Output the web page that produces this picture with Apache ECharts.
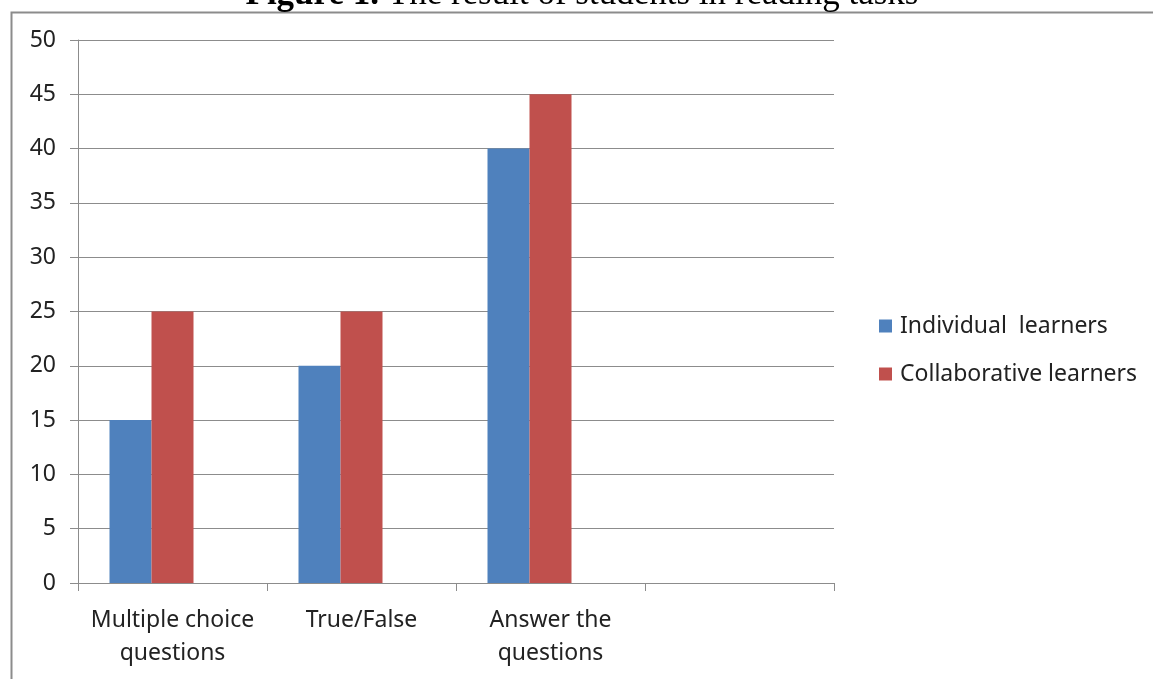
<!DOCTYPE html>
<html>
<head>
<meta charset="utf-8">
<script src="https://cdn.jsdelivr.net/npm/echarts@6/dist/echarts.min.js"></script>
<style>
html,body{margin:0;padding:0;background:#fff;}
#chart{width:1153px;height:679px;}
</style>
</head>
<body>
<div id="chart"></div>
<script>
const categories = ['Multiple choice\nquestions', 'True/False', 'Answer the\nquestions', ''];
const individualLearners = [15, 20, 40, null];
const collaborativeLearners = [25, 25, 45, null];
const placeholderSeries = [null, null, null, null];
const seriesNames = ['Individual  learners', 'Collaborative learners'];
const yTicks = { min: 0, max: 50, interval: 5 };

const chart = echarts.init(document.getElementById('chart'));
const labelFont = '"Noto Sans", sans-serif';
chart.setOption({
  animation: false,
  backgroundColor: '#fff',
  graphic: [
    {
      type: 'rect', left: 9, top: 10, z: -1,
      shape: { width: 1200, height: 720 },
      style: { fill: 'none', stroke: '#8c8c8c', lineWidth: 2 }
    },
    {
      type: 'text', x: 582, y: -5, z: 10,
      style: {
        text: '{b|Figure 1.} The result of students in reading tasks',
        align: 'center', verticalAlign: 'middle',
        fontFamily: '"Liberation Serif", serif', fontSize: 35, fill: '#000',
        rich: { b: { fontWeight: 'bold', fontFamily: '"Liberation Serif", serif', fontSize: 35 } }
      }
    }
  ],
  grid: { left: 78, right: 319, top: 40, bottom: 96, containLabel: false },
  legend: {
    orient: 'vertical', left: 874, top: 308,
    data: seriesNames,
    icon: 'rect', itemWidth: 13, itemHeight: 13, itemGap: 22,
    textStyle: { fontFamily: labelFont, fontSize: 23, color: '#222', lineHeight: 26, padding: [0, 0, 0, 3] }
  },
  xAxis: {
    type: 'category', data: categories,
    axisLine: { lineStyle: { color: '#8c8c8c', width: 1 } },
    axisTick: { show: true, length: 8, lineStyle: { color: '#8c8c8c' } },
    axisLabel: { interval: 0, margin: 21, fontFamily: labelFont, fontSize: 23, color: '#222', lineHeight: 33 },
    splitLine: { show: false }
  },
  yAxis: {
    type: 'value', min: yTicks.min, max: yTicks.max, interval: yTicks.interval,
    axisLine: { show: true, lineStyle: { color: '#8c8c8c', width: 1 } },
    axisTick: { show: true, length: 8, lineStyle: { color: '#8c8c8c' } },
    axisLabel: { margin: 22, fontFamily: labelFont, fontSize: 23, color: '#222' },
    splitLine: { show: true, lineStyle: { color: '#8c8c8c', width: 1 } }
  },
  series: [
    { name: seriesNames[0], type: 'bar', data: individualLearners, barWidth: 42, barGap: '0%', itemStyle: { color: '#4F81BD' } },
    { name: seriesNames[1], type: 'bar', data: collaborativeLearners, barWidth: 42, barGap: '0%', itemStyle: { color: '#C0504D' } },
    { name: 'placeholder', type: 'bar', data: placeholderSeries, barWidth: 42, barGap: '0%', itemStyle: { color: 'transparent' } }
  ]
});
</script>
</body>
</html>
